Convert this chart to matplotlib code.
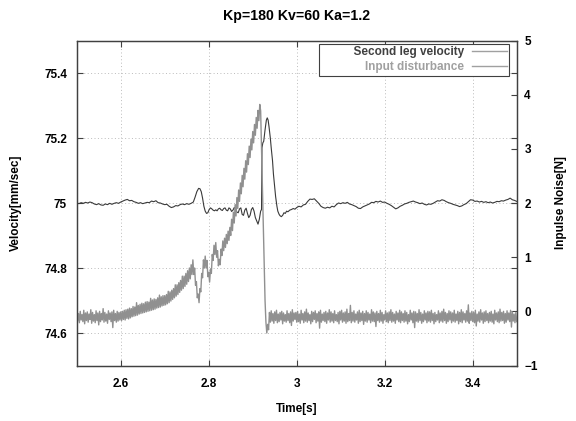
import matplotlib.pyplot as plt
import numpy as np
from matplotlib.lines import Line2D

# second leg velocity [mm/sec]
t_vel = [2.500, 2.505, 2.510, 2.515, 2.520, 2.525, 2.530, 2.535, 2.540, 2.545,
         2.550, 2.555, 2.560, 2.565, 2.570, 2.575, 2.580, 2.585, 2.590, 2.595,
         2.600, 2.605, 2.610, 2.615, 2.620, 2.625, 2.630, 2.635, 2.640, 2.645,
         2.650, 2.655, 2.660, 2.665, 2.670, 2.675, 2.680, 2.685, 2.690, 2.695,
         2.700, 2.705, 2.710, 2.715, 2.720, 2.725, 2.730, 2.735, 2.740, 2.745,
         2.750, 2.755, 2.760, 2.765, 2.769, 2.773, 2.777, 2.780, 2.783, 2.786,
         2.789, 2.792, 2.795, 2.798, 2.801, 2.804, 2.807, 2.810, 2.813, 2.816,
         2.819, 2.822, 2.825, 2.828, 2.831, 2.834, 2.837, 2.840, 2.843, 2.846,
         2.849, 2.852, 2.855, 2.858, 2.861, 2.864, 2.867, 2.870, 2.873, 2.876,
         2.879, 2.882, 2.885, 2.888, 2.891, 2.894, 2.897, 2.900, 2.903, 2.906,
         2.909, 2.912, 2.915, 2.918, 2.920, 2.9205, 2.921, 2.923, 2.925, 2.928,
         2.931, 2.933, 2.935, 2.937, 2.940, 2.942, 2.945, 2.947, 2.950, 2.952,
         2.955, 2.957, 2.960, 2.962, 2.965, 2.968, 2.971, 2.974, 2.977, 2.980,
         2.984, 2.988, 2.992, 2.996,
         3.000, 3.005, 3.010, 3.015, 3.020, 3.025, 3.030, 3.035, 3.040, 3.045,
         3.050, 3.055, 3.060, 3.065, 3.070, 3.075, 3.080, 3.085, 3.090, 3.095,
         3.100, 3.105, 3.110, 3.115, 3.120, 3.125, 3.130, 3.135, 3.140, 3.145,
         3.150, 3.155, 3.160, 3.165, 3.170, 3.175, 3.180, 3.185, 3.190, 3.195,
         3.200, 3.205, 3.210, 3.215, 3.220, 3.225, 3.230, 3.235, 3.240, 3.245,
         3.250, 3.255, 3.260, 3.265, 3.270, 3.275, 3.280, 3.285, 3.290, 3.295,
         3.300, 3.305, 3.310, 3.315, 3.320, 3.325, 3.330, 3.335, 3.340, 3.345,
         3.350, 3.355, 3.360, 3.365, 3.370, 3.375, 3.380, 3.385, 3.390, 3.395,
         3.400, 3.405, 3.410, 3.415, 3.420, 3.425, 3.430, 3.435, 3.440, 3.445,
         3.450, 3.455, 3.460, 3.465, 3.470, 3.475, 3.480, 3.485, 3.490, 3.495,
         3.500]
vel = [75.000, 74.998, 75.001, 74.999, 75.002, 75.000, 75.003, 75.001, 74.997, 74.995,
       74.998, 74.994, 74.993, 74.997, 74.995, 74.999, 74.996, 74.999, 75.001, 74.999,
       75.003, 75.006, 75.009, 75.011, 75.007, 75.008, 75.004, 75.002, 74.999, 75.001,
       74.998, 75.000, 75.002, 75.001, 75.006, 75.004, 75.007, 75.001, 75.000, 74.997,
       74.995, 74.996, 74.990, 74.986, 74.988, 74.992, 74.991, 74.995, 74.997, 74.995,
       74.998, 74.996, 74.999, 75.003, 75.018, 75.035, 75.045, 75.044, 75.035, 75.015,
       74.990, 74.975, 74.968, 74.970, 74.980, 74.985, 74.982, 74.978, 74.976, 74.979,
       74.976, 74.982, 74.984, 74.979, 74.977, 74.983, 74.985, 74.978, 74.976, 74.985,
       74.982, 74.974, 74.978, 74.986, 74.983, 74.972, 74.970, 74.982, 74.985, 74.965,
       74.962, 74.978, 74.984, 74.968, 74.955, 74.962, 74.980, 74.986, 74.975, 74.955,
       74.945, 74.935, 74.950, 74.975, 74.980, 75.100, 75.170, 75.185, 75.190, 75.225,
       75.255, 75.262, 75.255, 75.235, 75.200, 75.170, 75.130, 75.090, 75.050, 75.020,
       74.990, 74.975, 74.965, 74.961, 74.958, 74.962, 74.970, 74.968, 74.975, 74.973,
       74.978, 74.980, 74.983, 74.981,
       74.986, 74.990, 74.988, 74.994, 74.996, 75.005, 75.012, 75.011, 75.013, 75.006,
       74.999, 74.990, 74.986, 74.984, 74.987, 74.985, 74.990, 74.988, 74.995, 75.000,
       74.998, 75.001, 74.999, 75.002, 74.997, 74.995, 74.992, 74.989, 74.984, 74.983,
       74.988, 74.991, 74.994, 74.997, 75.002, 75.001, 75.005, 75.003, 75.006, 75.002,
       75.003, 74.999, 74.996, 74.992, 74.987, 74.982, 74.985, 74.990, 74.993, 74.997,
       74.999, 75.002, 75.004, 75.006, 75.003, 75.001, 74.998, 75.000, 74.996, 74.994,
       74.997, 74.996, 74.999, 75.003, 75.007, 75.006, 75.010, 75.008, 75.004, 75.001,
       74.999, 74.996, 74.994, 74.992, 74.989, 74.991, 74.995, 74.998, 75.004, 75.010,
       75.009, 75.005, 75.006, 75.003, 75.005, 75.002, 75.004, 75.001, 75.003, 75.000,
       75.002, 75.005, 75.004, 75.007, 75.006, 75.009, 75.011, 75.015, 75.010, 75.008,
       75.005]

# input disturbance [N], sampled every 2 ms from 2.5 s to 3.5 s
dist_t = np.linspace(2.5, 3.5, 501)
dist = [
    # 2.500 - 2.598
    -0.01, -0.18, -0.04, -0.21, 0.00, -0.16, -0.06, -0.19, 0.02, -0.23,
    -0.03, -0.17, -0.01, -0.20, -0.05, -0.15, 0.03, -0.22, -0.02, -0.18,
    -0.06, -0.21, 0.01, -0.17, -0.03, -0.25, 0.00, -0.19, -0.04, -0.16,
    0.05, -0.20, -0.02, -0.18, -0.05, -0.22, 0.01, -0.15, -0.03, -0.19,
    -0.01, -0.30, 0.02, -0.17, -0.04, -0.20, 0.00, -0.18, -0.02, -0.16,
    # 2.600 - 2.698
    -0.01, -0.17, 0.00, -0.15, 0.02, -0.16, 0.03, -0.13, 0.04, -0.14,
    0.06, -0.12, 0.05, -0.10, 0.09, -0.09, 0.08, -0.08, 0.16, -0.07,
    0.11, -0.05, 0.13, -0.04, 0.15, -0.03, 0.14, -0.02, 0.17, -0.01,
    0.18, 0.00, 0.17, 0.01, 0.24, 0.02, 0.21, 0.03, 0.23, 0.04,
    0.22, 0.06, 0.25, 0.07, 0.30, 0.08, 0.27, 0.10, 0.29, 0.11,
    # 2.700 - 2.762
    0.29, 0.12, 0.31, 0.14, 0.37, 0.16, 0.36, 0.19, 0.39, 0.22,
    0.42, 0.25, 0.49, 0.28, 0.49, 0.31, 0.53, 0.35, 0.57, 0.39,
    0.65, 0.42, 0.65, 0.46, 0.70, 0.50, 0.75, 0.55, 0.80, 0.60,
    0.86, 0.68,
    # 2.764 - 2.850
    0.95, 0.68, 0.80, 0.48, 0.55, 0.25, 0.32, 0.16, 0.42, 0.36,
    0.70, 0.62, 0.95, 0.80, 1.02, 0.80, 0.94, 0.64, 0.72, 0.54,
    0.78, 0.70, 1.05, 0.94, 1.22, 1.05, 1.27, 1.00, 1.12, 0.84,
    0.96, 0.86, 1.15, 1.03, 1.30, 1.12, 1.35, 1.18, 1.42, 1.25,
    1.48, 1.31, 1.55, 1.40,
    # 2.852 - 2.936
    1.70, 1.49, 1.83, 1.63, 1.97, 1.76, 2.10, 1.90, 2.24, 2.03,
    2.37, 2.17, 2.51, 2.30, 2.64, 2.44, 2.78, 2.57, 2.91, 2.71,
    3.05, 2.84, 3.18, 2.98, 3.32, 3.11, 3.45, 3.25, 3.58, 3.38,
    3.71, 3.52, 3.82, 3.70, 3.00, 2.30, 1.60, 0.90, 0.20, -0.20,
    -0.40, -0.24, -0.34,
    # 2.938 - 3.500
    -0.02, -0.20, 0.01, -0.18, -0.04, -0.22, -0.01, -0.17, 0.02, -0.21,
    -0.05, -0.19, -0.02, -0.16, 0.00, -0.23, -0.03, -0.18, -0.06, -0.20,
    0.01, -0.17, -0.04, -0.21, -0.01, -0.26, 0.03, -0.18, -0.03, -0.15,
    -0.02, -0.20, 0.00, -0.19, -0.05, -0.22, 0.02, -0.16, -0.04, -0.21,
    -0.01, -0.18, 0.04, -0.20, -0.03, -0.17, -0.06, -0.23, 0.00, -0.19,
    -0.02, -0.15, 0.01, -0.21, -0.04, -0.18, -0.01, -0.31, 0.02, -0.20,
    -0.05, -0.17, -0.02, -0.19, 0.00, -0.22, -0.03, -0.16, 0.03, -0.20,
    -0.01, -0.18, -0.04, -0.21, 0.01, -0.17, -0.06, -0.19, -0.02, -0.23,
    0.00, -0.16, 0.02, -0.20, -0.03, -0.18, -0.01, -0.22, 0.04, -0.19,
    -0.04, -0.17, 0.11, -0.21, -0.02, -0.18, 0.01, -0.20, -0.05, -0.16,
    -0.01, -0.22, 0.02, -0.19, -0.03, -0.17, 0.00, -0.24, -0.04, -0.18,
    0.01, -0.20, -0.02, -0.16, -0.05, -0.21, 0.03, -0.18, -0.01, -0.19,
    -0.03, -0.28, 0.00, -0.17, -0.04, -0.20, 0.02, -0.18, -0.02, -0.22,
    -0.06, -0.16, 0.01, -0.19, -0.03, -0.21, -0.01, -0.17, 0.03, -0.20,
    -0.02, -0.18, -0.05, -0.22, 0.00, -0.16, -0.03, -0.19, 0.02, -0.21,
    -0.01, -0.17, -0.04, -0.20, 0.01, -0.18, -0.02, -0.23, -0.06, -0.19,
    0.02, -0.16, -0.03, -0.21, 0.00, -0.30, -0.01, -0.18, -0.04, -0.20,
    0.03, -0.17, -0.02, -0.22, -0.05, -0.19, 0.01, -0.16, -0.03, -0.21,
    0.00, -0.18, -0.01, -0.20, 0.02, -0.17, -0.04, -0.23, -0.02, -0.19,
    -0.06, -0.16, 0.01, -0.21, -0.03, -0.18, 0.00, -0.20, 0.04, -0.17,
    -0.02, -0.22, -0.04, -0.19, 0.01, -0.16, -0.01, -0.21, -0.03, -0.18,
    0.02, -0.20, -0.05, -0.17, 0.00, -0.23, -0.02, -0.19, 0.03, -0.21,
    -0.01, -0.16, -0.04, -0.20, 0.01, -0.18, 0.12, -0.22, -0.03, -0.17,
    0.00, -0.19, -0.02, -0.21, 0.02, -0.27, -0.05, -0.18, -0.01, -0.20,
    0.03, -0.16, -0.03, -0.22, -0.01, -0.19, 0.01, -0.17, -0.04, -0.21,
    -0.02, -0.18, 0.00, -0.20, -0.05, -0.23, 0.02, -0.16, -0.03, -0.19,
    -0.01, -0.21, 0.04, -0.18, -0.02, -0.17, 0.00, -0.22, -0.04, -0.20,
    0.01, -0.16, -0.03, -0.19, 0.02, -0.29, -0.01, -0.18, -0.05, -0.21,
    -0.02, -0.19]

x_ticks = [2.6, 2.8, 3.0, 3.2, 3.4]
x_labels = ['2.6', '2.8', '3', '3.2', '3.4']
v_ticks = [74.6, 74.8, 75.0, 75.2, 75.4]
v_labels = ['74.6', '74.8', '75', '75.2', '75.4']
n_ticks = [-1, 0, 1, 2, 3, 4, 5]
series_names = ['Second leg velocity', 'Input disturbance']

plt.rcParams['font.family'] = ['Liberation Sans', 'DejaVu Sans']
plt.rcParams['font.weight'] = 'bold'
plt.rcParams['axes.labelweight'] = 'bold'
plt.rcParams['axes.titleweight'] = 'bold'
plt.rcParams['font.size'] = 8.5

frame_col = '#404040'
fig = plt.figure(figsize=(5.76, 4.21), dpi=100)
ax = fig.add_axes([0.1332, 0.1318, 0.7639, 0.772])
ax2 = ax.twinx()

ax.plot(t_vel, vel, color='#3a3a3a', lw=0.8)
ax2.plot(dist_t, dist, color='#909090', lw=1.0)

ax.set_xlim(2.5, 3.5)
ax.set_ylim(74.5, 75.5)
ax2.set_ylim(-1, 5)

ax.set_xticks(x_ticks)
ax.set_xticklabels(x_labels)
ax.set_yticks(v_ticks)
ax.set_yticklabels(v_labels)
ax2.set_yticks(n_ticks)

ax.grid(True, ls=(0, (1, 2.5)), color='#bbbbbb', lw=0.7)
ax.tick_params(direction='in', length=4, width=0.8, color=frame_col,
               top=True, right=True)
ax.tick_params(axis='x', pad=9)
ax.tick_params(axis='y', pad=7)
ax2.tick_params(direction='in', length=4, width=0.8, color=frame_col, pad=5.5)
for a in (ax, ax2):
    for s in a.spines.values():
        s.set_color(frame_col)
        s.set_linewidth(0.9)

ax.set_title('Kp=180 Kv=60 Ka=1.2', pad=15)
ax.set_xlabel('Time[s]')
ax.set_ylabel('Velocity[mm/sec]')
ax2.set_ylabel('Inpulse Noise[N]')
ax.xaxis.set_label_coords(0.5, -0.115)
ax.yaxis.set_label_coords(-0.124, 0.5)
ax2.yaxis.set_label_coords(1.087, 0.5)

handles = [Line2D([], [], color='#a0a0a0', lw=1), Line2D([], [], color='#a0a0a0', lw=1)]
leg = ax2.legend(handles, ['          ' + series_names[0], series_names[1]],
                 loc='upper right', bbox_to_anchor=(0.9825, 0.9892),
                 borderaxespad=0, markerfirst=False, fancybox=False,
                 edgecolor=frame_col, framealpha=1, handlelength=2.9,
                 handletextpad=0.7, borderpad=0.2, labelspacing=0.25)
leg.get_frame().set_linewidth(0.8)
leg.get_texts()[0].set_color('#404040')
leg.get_texts()[1].set_color('#a0a0a0')

fig.savefig('out.png', dpi=100)
